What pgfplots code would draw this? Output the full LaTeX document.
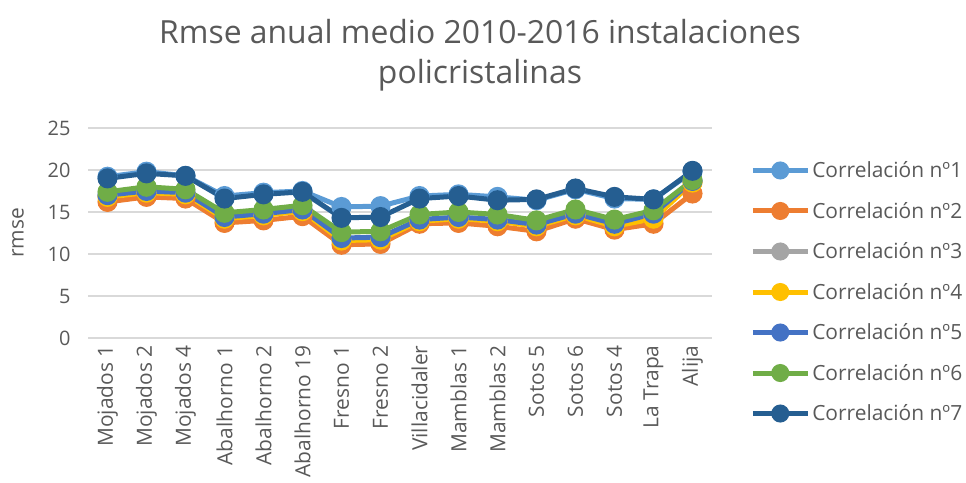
\documentclass[border=0pt]{standalone}
\usepackage{pgfplots}
\pgfplotsset{compat=1.18}
\usepackage{fontspec}
\setmainfont{Open Sans}
\definecolor{c1}{HTML}{5B9BD5}
\definecolor{c2}{HTML}{ED7D31}
\definecolor{c3}{HTML}{A5A5A5}
\definecolor{c4}{HTML}{FFC000}
\definecolor{c5}{HTML}{4472C4}
\definecolor{c6}{HTML}{70AD47}
\definecolor{c7}{HTML}{255E91}
\definecolor{txt}{HTML}{595959}
\begin{document}
\begin{tikzpicture}[x=1bp,y=1bp]
\path (0,0) rectangle (966,483);
\node[text=txt,font=\fontsize{32}{40}\selectfont,align=center] at (480,428) {Rmse anual medio 2010-2016 instalaciones\\policristalinas};
\begin{axis}[
  at={(88bp,145bp)}, anchor=south west,
  scale only axis, width=624bp, height=210bp,
  xmin=-0.5, xmax=15.5, ymin=0, ymax=25,
  ytick={0,5,...,25},
  xtick={0,...,15},
  xticklabels={Mojados 1,Mojados 2,Mojados 4,Abalhorno 1,Abalhorno 2,Abalhorno 19,Fresno 1,Fresno 2,Villacidaler,Mamblas 1,Mamblas 2,Sotos 5,Sotos 6,Sotos 4,La Trapa,Alija},
  x tick label style={rotate=90,anchor=east,font=\fontsize{21}{24}\selectfont,text=txt},
  y tick label style={font=\fontsize{20}{24}\selectfont,text=txt},
  /pgf/number format/assume math mode=true,
  ymajorgrids, grid style={color=black!15,line width=1.3bp},
  axis line style={draw=none},
  major tick length=0pt,
  xticklabel shift=4bp, yticklabel shift=14bp,
  ylabel={rmse},
  ylabel style={font=\fontsize{21}{24}\selectfont,text=txt,at={(axis description cs:0,0.5)},anchor=center,yshift=70bp},
  clip=false,
  every axis plot/.append style={line width=5bp, mark=*, mark size=7.5bp, mark options={solid}},
  legend style={at={(axis description cs:1.061,0.219)},anchor=west,draw=none,fill=none,
     font=\fontsize{21}{24}\selectfont, text=txt, row sep=19bp, inner sep=0pt},
  legend cell align=left,
  legend image code/.code={\draw[mark repeat=2,mark phase=2,mark size=6.5bp,line width=5bp] plot coordinates {(0bp,0bp) (27.5bp,0bp) (55bp,0bp)};},
]
\addplot[color=c1] coordinates {(0,19.2)(1,19.8)(2,19.3)(3,16.9)(4,17.3)(5,17.5)(6,15.6)(7,15.7)(8,16.9)(9,17.1)(10,16.8)(11,16.4)(12,17.7)(13,16.6)(14,16.5)(15,19.8)};
\addlegendentry{Correlación nº1}
\addplot[color=c2] coordinates {(0,16.2)(1,16.8)(2,16.6)(3,13.7)(4,14.0)(5,14.5)(6,11.1)(7,11.2)(8,13.6)(9,13.7)(10,13.3)(11,12.7)(12,14.2)(13,12.9)(14,13.6)(15,17.2)};
\addlegendentry{Correlación nº2}
\addplot[color=c3] coordinates {(0,16.9)(1,17.4)(2,17.2)(3,14.3)(4,14.7)(5,15.2)(6,11.7)(7,11.8)(8,14.0)(9,14.3)(10,14.0)(11,13.4)(12,14.7)(13,13.5)(14,14.5)(15,18.6)};
\addlegendentry{Correlación nº3}
\addplot[color=c4] coordinates {(0,16.8)(1,17.3)(2,17.1)(3,14.2)(4,14.6)(5,15.1)(6,11.6)(7,11.7)(8,13.9)(9,14.2)(10,13.9)(11,13.3)(12,14.6)(13,13.3)(14,14.2)(15,18.5)};
\addlegendentry{Correlación nº4}
\addplot[color=c5] coordinates {(0,17.0)(1,17.5)(2,17.3)(3,14.4)(4,14.8)(5,15.3)(6,11.9)(7,12.0)(8,14.1)(9,14.4)(10,14.1)(11,13.5)(12,14.8)(13,13.6)(14,14.8)(15,18.7)};
\addlegendentry{Correlación nº5}
\addplot[color=c6] coordinates {(0,17.4)(1,18.0)(2,17.7)(3,14.9)(4,15.3)(5,15.8)(6,12.6)(7,12.7)(8,14.7)(9,15.0)(10,14.7)(11,14.0)(12,15.3)(13,14.1)(14,15.2)(15,18.8)};
\addlegendentry{Correlación nº6}
\addplot[color=c7] coordinates {(0,19.0)(1,19.6)(2,19.3)(3,16.6)(4,17.1)(5,17.4)(6,14.3)(7,14.4)(8,16.6)(9,16.9)(10,16.4)(11,16.5)(12,17.8)(13,16.8)(14,16.5)(15,19.9)};
\addlegendentry{Correlación nº7}
\end{axis}
\end{tikzpicture}
\end{document}
